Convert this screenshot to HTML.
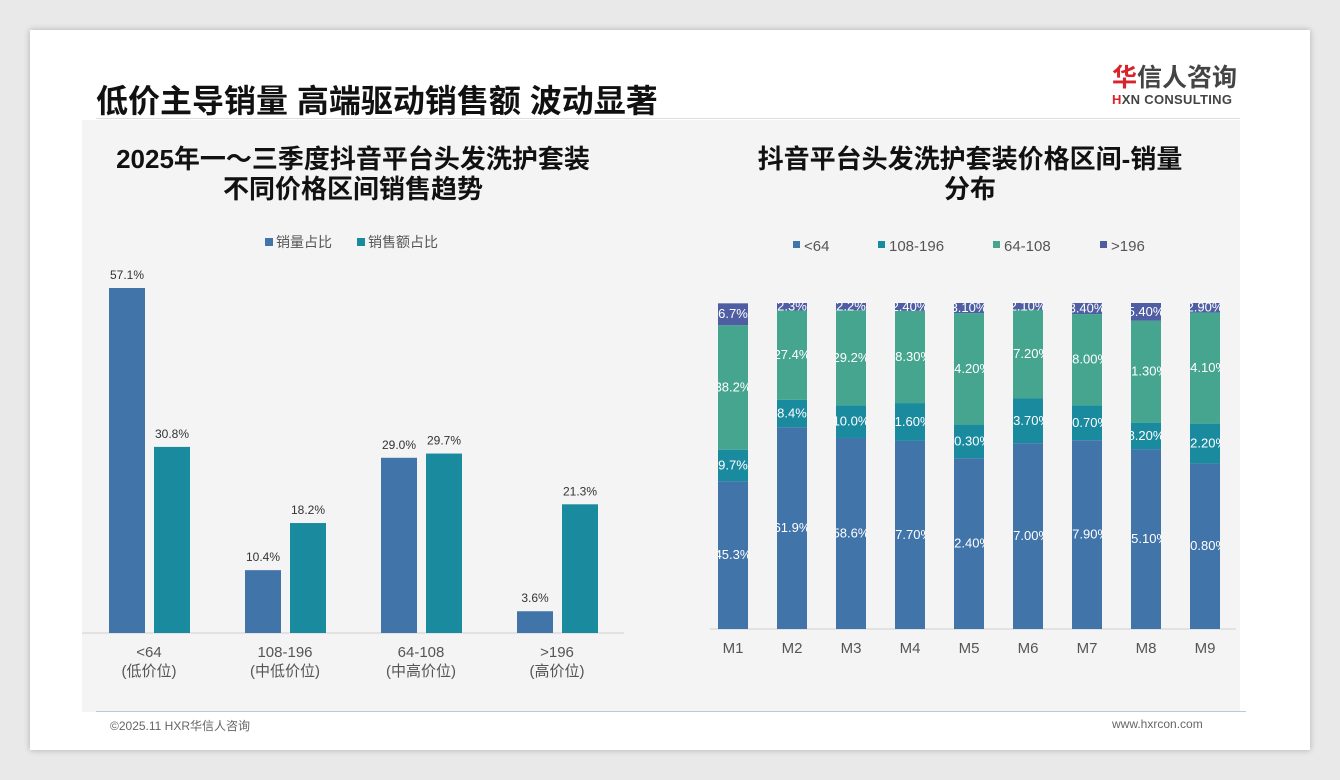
<!DOCTYPE html>
<html><head><meta charset="utf-8">
<style>
body{margin:0;width:1340px;height:780px;background:#e9e9e9;font-family:"Liberation Sans","Noto Sans CJK SC",sans-serif;overflow:hidden;position:relative}
.card{position:absolute;left:30px;top:30px;width:1280px;height:720px;background:#fff;box-shadow:0 0 6px rgba(0,0,0,.25)}
.panel{position:absolute;left:82px;top:120px;width:1158px;height:592px;background:#f4f4f4}
.abs{position:absolute}
</style></head><body>
<div class="card"></div>
<div class="panel"></div>
<div class="abs" style="left:96px;top:76px;font-size:32px;font-weight:bold;color:#111;white-space:nowrap">低价主导销量 高端驱动销售额 波动显著</div>
<div class="abs" style="left:1112px;top:64px;width:130px;text-align:left">
<div style="font-size:25px;font-weight:bold;color:#444;line-height:28px"><span style="color:#d9232a">华</span>信人咨询</div>
<div style="font-size:13px;font-weight:bold;color:#444;letter-spacing:.3px"><span style="color:#d9232a">H</span>XN CONSULTING</div>
</div>
<div class="abs" style="left:96px;top:118px;width:1144px;height:1px;background:#ddd"></div>
<div class="abs" style="left:82px;top:144px;width:542px;text-align:center;font-size:26px;font-weight:bold;color:#111;line-height:30px;white-space:nowrap">2025年一～三季度抖音平台头发洗护套装<br>不同价格区间销售趋势</div>
<div class="abs" style="left:700px;top:144px;width:540px;text-align:center;font-size:26px;font-weight:bold;color:#111;line-height:30px;white-space:nowrap">抖音平台头发洗护套装价格区间-销量<br>分布</div>
<svg id="chart" class="abs" style="left:0;top:0" width="1340" height="780"></svg>
<div class="abs" style="left:96px;top:711px;width:1150px;height:1px;background:#b5cbe3"></div>
<div class="abs" style="left:110px;top:717px;font-size:12px;color:#666">©2025.11 HXR华信人咨询</div>
<div class="abs" style="left:1112px;top:717px;font-size:12px;color:#666">www.hxrcon.com</div>
<script>
// Left chart data
const leftCats = ["<64","108-196","64-108",">196"];
const leftSub = ["(低价位)","(中低价位)","(中高价位)","(高价位)"];
const volumeShare = [57.1,10.4,29.0,3.6];
const salesShare = [30.8,18.2,29.7,21.3];
// Right chart data
const months = ["M1","M2","M3","M4","M5","M6","M7","M8","M9"];
const s_lt64 = [45.3,61.9,58.6,57.7,52.4,57.0,57.9,55.1,50.8];
const s_108_196 = [9.7,8.4,10.0,11.6,10.3,13.7,10.7,8.2,12.2];
const s_64_108 = [38.2,27.4,29.2,28.3,34.2,27.2,28.0,31.3,34.1];
const s_gt196 = [6.7,2.3,2.2,2.4,3.1,2.1,3.4,5.4,2.9];
const labelDecimals = [1,1,1,2,2,2,2,2,2];

const NS="http://www.w3.org/2000/svg";
const svg=document.getElementById('chart');
function mk(tag,attrs,parent){const e=document.createElementNS(NS,tag);for(const k in attrs)e.setAttribute(k,attrs[k]);(parent||svg).appendChild(e);return e;}
const BLUE="#4174a9",TEAL="#1a8a9f",GREEN="#45a58f",PURPLE="#4f5ea3";

const lBase=633, lScale=345/57.1;
const lx=i=>149+i*136;
const ly=v=>lBase-v*lScale;
let ax=mk('line',{x1:82,x2:624,y1:lBase,y2:lBase,stroke:'#d0d0d0','stroke-width':1});

let lg=mk('rect',{x:265,y:238,width:8,height:8,fill:BLUE});

let lt=mk('text',{x:276,y:247,'font-size':14,fill:'#555'});lt.textContent='销量占比';

lg=mk('rect',{x:357,y:238,width:8,height:8,fill:TEAL});

lt=mk('text',{x:368,y:247,'font-size':14,fill:'#555'});lt.textContent='销售额占比';

leftCats.forEach((c,i)=>{
  const cx=lx(i);
  [[volumeShare[i],cx-40,BLUE,'volume'],[salesShare[i],cx+5,TEAL,'sales']].forEach(([v,x,col,n])=>{
    const r=mk('rect',{x:x,y:ly(v),width:36,height:lBase-ly(v),fill:col});
    
    const t=mk('text',{x:x+18,y:ly(v)-9,'font-size':12,fill:'#333','text-anchor':'middle'});
    t.textContent=v.toFixed(1)+'%';
    
  });
  const t1=mk('text',{x:cx,y:657,'font-size':15,fill:'#555','text-anchor':'middle'});t1.textContent=c;
  
  const t2=mk('text',{x:cx,y:676,'font-size':15,fill:'#555','text-anchor':'middle'});t2.textContent=leftSub[i];
  
});

const rBase=629, rScale=326/100;
const rx=i=>733+i*59;
ax=mk('line',{x1:710,x2:1236,y1:rBase,y2:rBase,stroke:'#d0d0d0','stroke-width':1});

const series=[["<64",s_lt64,BLUE],["108-196",s_108_196,TEAL],["64-108",s_64_108,GREEN],[">196",s_gt196,PURPLE]];
const legX=[793,878,993,1100];
[0,1,2,3].forEach((si,k)=>{
  const r=mk('rect',{x:legX[k],y:241,width:7,height:7,fill:series[si][2]});
  
  const t=mk('text',{x:legX[k]+11,y:251,'font-size':15,fill:'#555'});t.textContent=series[si][0];
  
});
const defs=mk('defs',{});
months.forEach((m,i)=>{
  const cx=rx(i);let cum=0;
  const cp=mk('clipPath',{id:'cp'+i},defs);
  mk('rect',{x:cx-15,y:0,width:30,height:780},cp);
  series.forEach(([name,arr,col],si)=>{
    const v=arr[i];const y0=rBase-cum*rScale;const y1=rBase-(cum+v)*rScale;cum+=v;
    const r=mk('rect',{x:cx-15,y:y1,width:30,height:y0-y1,fill:col});
    
    const t=mk('text',{x:cx,y:(y0+y1)/2+4,'font-size':13,fill:'#fff','text-anchor':'middle','clip-path':'url(#cp'+i+')'});
    t.textContent=v.toFixed(labelDecimals[i])+'%';
    
  });
  const t=mk('text',{x:cx,y:653,'font-size':15,fill:'#555','text-anchor':'middle'});t.textContent=m;
  
});
</script>
</body></html>
